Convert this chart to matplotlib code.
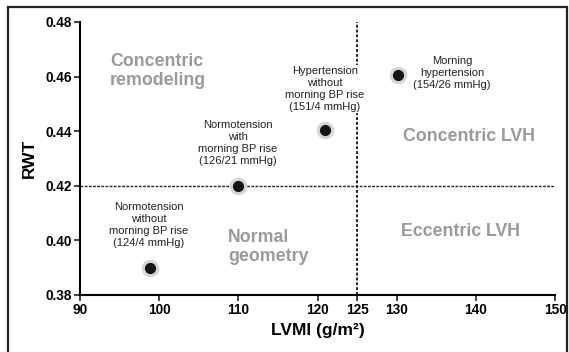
import numpy as np
from matplotlib import pyplot as plt
from matplotlib.patches import Rectangle

plt.rcParams['font.family'] = ['Liberation Sans', 'DejaVu Sans']

# data
lvmi = [98.8, 110.0, 120.9, 130.2]
rwt = [0.390, 0.420, 0.4405, 0.4605]
group_labels = [
    "Normotension\nwithout\nmorning BP rise\n(124/4 mmHg)",
    "Normotension\nwith\nmorning BP rise\n(126/21 mmHg)",
    "Hypertension\nwithout\nmorning BP rise\n(151/4 mmHg)",
    "Morning\nhypertension\n(154/26 mmHg)",
]
label_pos = [(98.7, 0.4058), (109.95, 0.4355), (120.9, 0.4554), (137.0, 0.4614)]
regions = ["Concentric\nremodeling", "Concentric LVH", "Normal\ngeometry", "Eccentric LVH"]
region_pos = [(93.8, 0.462), (139.1, 0.438), (108.7, 0.3976), (138.1, 0.4032)]
region_ha = ['left', 'center', 'left', 'center']
xticks = [90, 100, 110, 120, 125, 130, 140, 150]
yticks = [0.38, 0.40, 0.42, 0.44, 0.46, 0.48]
lvmi_cut = 125
rwt_cut = 0.42

fig = plt.figure(figsize=(5.69, 3.52), dpi=100)
ax = fig.add_axes([0.1406, 0.162, 0.8348, 0.7755])

# outer frame
fig.patches.append(Rectangle((8 / 569, -0.05), 559 / 569, 1 - 7 / 352 + 0.05,
                             transform=fig.transFigure, fill=False,
                             edgecolor='#222222', linewidth=1.6))

ax.axhline(rwt_cut, color='#222222', linestyle=(0, (2, 1)), linewidth=1, zorder=1)
ax.axvline(lvmi_cut, color='#222222', linestyle=(0, (1.5, 1)), linewidth=1.4, zorder=1)

ax.scatter(lvmi, rwt, s=160, color='#d6d6d6', zorder=3, linewidths=0)
ax.scatter(lvmi, rwt, s=65, color='#151515', zorder=4, linewidths=0)

for txt, (x, y) in zip(group_labels, label_pos):
    ax.text(x, y, txt, ha='center', va='center', fontsize=8, color='#222222',
            linespacing=1.25, zorder=2,
            bbox=dict(facecolor='white', edgecolor='none', pad=1))

for txt, (x, y), ha in zip(regions, region_pos, region_ha):
    ax.text(x, y, txt, ha=ha, va='center', fontsize=12.8, fontweight='bold',
            color='#9a9a9a', linespacing=1.1)

ax.set_xlim(90, 150)
ax.set_ylim(0.38, 0.48)
ax.set_xticks(xticks)
ax.set_yticks(yticks)
ax.set_yticklabels([f"{v:.2f}" for v in yticks])
ax.tick_params(labelsize=9.8, width=1.2, length=4, color='#222222', pad=2)
for lab in ax.get_xticklabels() + ax.get_yticklabels():
    lab.set_fontweight('bold')
ax.spines['top'].set_visible(False)
ax.spines['right'].set_visible(False)
ax.spines['left'].set_linewidth(1.5)
ax.spines['bottom'].set_linewidth(1.5)
ax.set_xlabel("LVMI (g/m\u00b2)", fontsize=12.5, fontweight='bold', labelpad=4)
ax.set_ylabel("RWT", fontsize=12.5, fontweight='bold', labelpad=6)

fig.savefig("out.png", dpi=100)
